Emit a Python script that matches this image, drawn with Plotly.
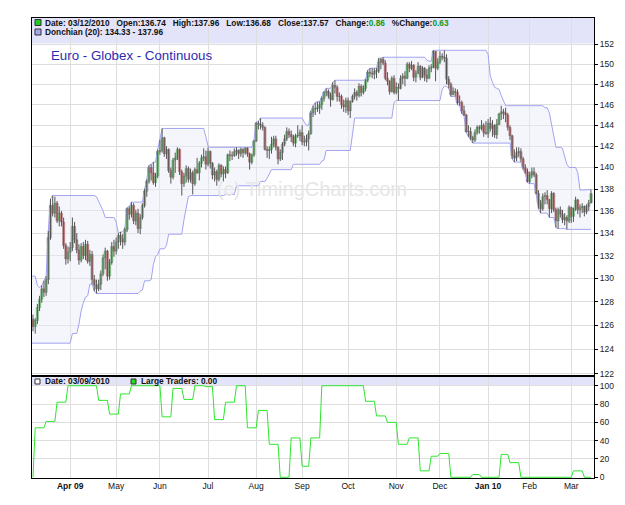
import numpy as np
import pandas as pd
import plotly.graph_objects as go

# ---------------- data ----------------
# trading calendar (weekdays minus exchange holidays)
holidays = ['2009-02-16', '2009-04-10', '2009-05-25', '2009-07-03', '2009-09-07',
            '2009-11-26', '2009-12-25', '2010-01-01', '2010-01-18', '2010-02-15']

# 19 sessions before the visible window (needed for the 20-day Donchian channel)
pre_opens = [128.60, 129.50, 128.60, 129.10, 128.70, 128.50, 126.20, 125.80, 126.70, 128.10,
             127.90, 128.10, 128.00, 127.30, 126.70, 125.70, 126.00, 126.50, 124.80]
pre_highs = [129.80, 130.20, 129.40, 129.20, 129.00, 128.60, 127.00, 126.90, 128.50, 129.00,
             128.40, 128.50, 128.30, 127.50, 126.90, 126.40, 127.20, 126.80, 126.90]
pre_lows = [128.30, 128.20, 128.20, 127.80, 128.10, 126.00, 125.60, 125.50, 125.80, 127.50,
            126.80, 127.30, 126.90, 126.00, 125.30, 125.20, 125.50, 124.50, 125.40]
pre_closes = [129.50, 128.60, 129.10, 128.70, 128.50, 126.20, 125.80, 126.70, 128.10, 127.90,
              128.10, 128.00, 127.30, 126.70, 125.70, 126.00, 126.50, 124.80, 126.50]

opens = [
    126.50, 125.90, 126.40, 127.50, 128.20, 129.10, 128.80, 129.90, 133.60, 136.50,
    135.80, 136.70, 135.10, 135.80, 135.00, 132.90, 131.70, 132.30, 132.70, 134.60,
    133.40, 132.50, 131.60, 132.80, 132.00, 133.00, 131.50, 132.10, 129.90, 129.40,
    129.10, 129.50, 130.40, 131.80, 132.40, 130.20, 131.40, 132.80, 132.40, 133.20,
    133.80, 133.50, 133.20, 134.30, 136.20, 135.70, 136.50, 135.10, 135.80, 134.40,
    135.40, 136.50, 137.80, 138.70, 140.00, 139.50, 138.60, 139.20, 141.50, 141.60,
    142.80, 141.30, 141.70, 139.70, 139.10, 140.70, 140.90, 141.70, 139.60, 138.50,
    139.20, 139.90, 138.90, 139.50, 138.50, 139.80, 139.50, 140.40, 140.90, 141.00,
    140.30, 141.50, 140.40, 139.30, 139.60, 138.90, 140.20, 139.40, 139.80, 139.50,
    141.20, 141.10, 141.10, 141.50, 141.60, 141.30, 141.70, 141.40, 141.80, 141.30,
    140.50, 141.20, 142.50, 144.20, 144.10, 144.00, 143.80, 141.70, 141.60, 141.70,
    142.20, 142.70, 141.90, 140.80, 141.40, 142.20, 142.70, 143.40, 143.10, 142.90,
    142.30, 143.00, 143.00, 143.30, 142.40, 142.40, 142.70, 143.20, 145.20, 145.60,
    145.60, 145.70, 146.00, 146.60, 147.20, 147.30, 146.90, 146.50, 147.90, 147.70,
    146.80, 146.80, 146.00, 145.80, 146.40, 145.40, 146.30, 146.80, 147.20, 146.90,
    147.80, 147.20, 147.60, 148.40, 149.20, 149.10, 149.00, 149.30, 149.30, 150.20,
    150.50, 150.10, 148.60, 148.30, 147.30, 148.60, 147.20, 147.70, 147.60, 148.60,
    148.80, 148.60, 150.00, 149.60, 149.90, 148.70, 149.10, 149.80, 148.70, 149.60,
    148.90, 148.60, 149.60, 149.70, 151.30, 149.60, 150.20, 150.80, 150.70, 150.60,
    148.50, 148.00, 147.00, 147.30, 147.20, 146.20, 146.20, 145.40, 145.00, 143.40,
    143.40, 142.80, 142.60, 143.30, 143.80, 143.70, 144.00, 143.30, 143.20, 144.20,
    143.70, 144.00, 143.10, 144.10, 145.10, 145.30, 145.20, 145.00, 143.80, 143.00,
    141.10, 140.90, 141.40, 141.50, 140.80, 140.00, 139.60, 138.70, 139.30, 139.60,
    139.30, 137.60, 136.70, 136.20, 137.30, 137.40, 137.00, 136.20, 137.60, 136.10,
    135.10, 136.10, 135.70, 135.20, 135.40, 135.10, 136.30, 135.50, 136.20, 137.00,
    136.10, 136.30, 136.40, 135.90, 136.40, 136.74]
highs = [
    126.90, 126.60, 127.80, 128.50, 129.40, 129.80, 130.20, 134.20, 137.10, 137.40,
    137.30, 136.90, 136.40, 136.00, 135.40, 133.10, 132.80, 133.20, 135.40, 135.00,
    134.00, 133.00, 133.10, 133.20, 133.40, 133.30, 132.50, 132.40, 130.30, 129.90,
    129.90, 130.70, 132.10, 132.70, 132.50, 131.70, 133.20, 133.40, 133.60, 134.00,
    134.10, 133.90, 134.50, 136.30, 136.40, 136.80, 136.70, 136.10, 136.20, 135.70,
    136.70, 138.00, 138.90, 140.20, 140.30, 140.50, 139.50, 141.70, 142.60, 143.70,
    142.90, 142.00, 141.80, 140.00, 140.90, 141.40, 141.90, 141.80, 139.80, 139.50,
    140.20, 140.10, 139.90, 139.70, 140.00, 140.90, 140.60, 141.20, 141.80, 141.60,
    141.90, 141.60, 140.50, 140.00, 139.80, 140.40, 140.30, 140.10, 140.10, 141.30,
    141.60, 141.50, 141.80, 141.90, 141.70, 141.85, 141.80, 141.90, 141.90, 141.40,
    141.30, 142.60, 144.30, 144.40, 144.70, 144.30, 143.90, 142.00, 142.00, 142.90,
    143.00, 143.00, 142.00, 141.70, 142.40, 143.10, 143.80, 143.70, 143.50, 143.10,
    143.20, 144.00, 143.60, 144.00, 143.00, 143.10, 143.50, 145.40, 145.90, 146.20,
    146.30, 146.30, 146.80, 147.30, 147.60, 147.50, 147.20, 148.20, 148.40, 147.90,
    147.20, 147.00, 146.50, 146.70, 146.70, 146.40, 147.00, 147.60, 147.40, 148.10,
    148.00, 147.90, 148.50, 149.40, 149.60, 149.60, 149.60, 149.60, 150.60, 150.60,
    150.70, 150.40, 149.20, 148.40, 148.80, 148.90, 148.20, 148.10, 148.90, 149.10,
    149.30, 150.20, 150.20, 150.30, 150.00, 149.40, 150.20, 149.90, 149.80, 149.70,
    149.50, 149.90, 150.00, 151.40, 151.30, 150.60, 151.30, 151.10, 151.40, 151.00,
    148.80, 148.20, 147.70, 147.60, 147.50, 146.90, 146.40, 145.90, 145.10, 144.00,
    143.80, 143.00, 143.60, 144.00, 144.00, 144.50, 144.20, 144.40, 144.60, 144.80,
    144.50, 144.10, 144.60, 145.20, 145.90, 145.60, 145.70, 145.20, 144.00, 143.10,
    141.70, 141.90, 141.90, 141.80, 141.00, 140.30, 139.90, 139.60, 140.00, 140.00,
    139.50, 137.90, 137.00, 137.60, 137.70, 137.90, 137.10, 137.80, 137.70, 136.30,
    136.30, 136.40, 136.10, 135.80, 135.60, 136.50, 136.40, 136.30, 137.30, 137.10,
    136.60, 136.70, 136.50, 136.60, 137.00, 137.96]
lows = [
    125.50, 125.30, 126.10, 127.20, 127.90, 128.40, 128.50, 129.50, 133.40, 135.50,
    135.40, 134.90, 134.60, 134.60, 132.60, 131.20, 131.30, 131.50, 132.40, 133.10,
    132.20, 131.20, 131.40, 131.70, 131.60, 131.30, 131.10, 129.50, 128.90, 128.70,
    128.90, 129.00, 130.20, 130.80, 129.80, 129.90, 131.20, 131.90, 132.10, 132.60,
    132.90, 132.60, 132.90, 134.10, 135.20, 135.40, 134.80, 134.70, 134.00, 133.90,
    135.20, 136.30, 137.30, 138.50, 138.80, 138.40, 138.20, 139.00, 141.20, 141.40,
    141.00, 140.80, 139.50, 138.50, 138.90, 139.50, 140.70, 139.30, 137.40, 138.20,
    138.60, 138.60, 138.60, 137.50, 138.30, 139.40, 138.80, 140.00, 140.60, 139.80,
    140.10, 139.90, 138.90, 138.70, 138.30, 138.70, 139.10, 138.70, 139.00, 139.40,
    140.60, 140.70, 141.00, 141.10, 140.80, 141.00, 140.90, 141.20, 141.00, 139.80,
    140.30, 141.00, 142.40, 143.60, 143.60, 143.50, 141.60, 140.90, 140.80, 141.30,
    141.90, 141.60, 140.30, 140.60, 140.70, 142.00, 142.50, 142.80, 142.40, 142.00,
    141.90, 142.80, 142.50, 142.10, 142.00, 142.00, 141.60, 143.10, 144.80, 145.00,
    145.30, 145.10, 145.50, 146.30, 146.80, 146.60, 145.80, 146.40, 147.10, 146.30,
    146.30, 145.60, 145.30, 145.20, 145.00, 144.70, 146.20, 146.50, 146.40, 146.70,
    146.80, 147.00, 147.30, 148.20, 148.70, 148.60, 148.50, 148.60, 149.10, 149.50,
    149.90, 148.40, 147.90, 147.00, 147.20, 147.00, 147.00, 146.40, 147.50, 148.00,
    147.80, 148.50, 149.20, 149.40, 148.30, 148.20, 149.00, 148.40, 148.60, 148.30,
    148.20, 148.50, 149.20, 149.60, 148.30, 149.40, 150.00, 150.40, 150.20, 148.00,
    147.60, 146.80, 146.90, 146.80, 146.00, 145.90, 145.10, 144.90, 143.30, 142.90,
    142.60, 142.30, 142.40, 143.10, 143.20, 143.50, 142.90, 143.10, 142.80, 143.40,
    142.90, 142.80, 142.70, 144.00, 144.50, 144.60, 144.30, 143.50, 142.60, 140.80,
    140.50, 140.60, 141.00, 140.50, 139.80, 139.40, 138.60, 138.50, 139.00, 139.10,
    137.50, 136.20, 135.80, 136.00, 136.60, 136.60, 135.40, 135.80, 135.90, 134.50,
    134.40, 135.40, 134.90, 134.70, 134.33, 134.90, 134.90, 135.00, 136.00, 135.70,
    135.40, 135.80, 135.50, 135.70, 136.00, 136.68]
closes = [
    125.90, 126.40, 127.50, 128.20, 129.10, 128.80, 129.90, 133.60, 136.50, 135.80,
    136.70, 135.10, 135.80, 135.00, 132.90, 131.70, 132.30, 132.70, 134.60, 133.40,
    132.50, 131.60, 132.80, 132.00, 133.00, 131.50, 132.10, 129.90, 129.40, 129.10,
    129.50, 130.40, 131.80, 132.40, 130.20, 131.40, 132.80, 132.40, 133.20, 133.80,
    133.50, 133.20, 134.30, 136.20, 135.70, 136.50, 135.10, 135.80, 134.40, 135.40,
    136.50, 137.80, 138.70, 140.00, 139.50, 138.60, 139.20, 141.50, 141.60, 142.80,
    141.30, 141.70, 139.70, 139.10, 140.70, 140.90, 141.70, 139.60, 138.50, 139.20,
    139.90, 138.90, 139.50, 138.50, 139.80, 139.50, 140.40, 140.90, 141.00, 140.30,
    141.50, 140.40, 139.30, 139.60, 138.90, 140.20, 139.40, 139.80, 139.50, 141.20,
    141.10, 141.10, 141.50, 141.60, 141.30, 141.70, 141.40, 141.80, 141.30, 140.50,
    141.20, 142.50, 144.20, 144.10, 144.00, 143.80, 141.70, 141.60, 141.70, 142.20,
    142.70, 141.90, 140.80, 141.40, 142.20, 142.70, 143.40, 143.10, 142.90, 142.30,
    143.00, 143.00, 143.30, 142.40, 142.40, 142.70, 143.20, 145.20, 145.60, 145.60,
    145.70, 146.00, 146.60, 147.20, 147.30, 146.90, 146.50, 147.90, 147.70, 146.80,
    146.80, 146.00, 145.80, 146.40, 145.40, 146.30, 146.80, 147.20, 146.90, 147.80,
    147.20, 147.60, 148.40, 149.20, 149.10, 149.00, 149.30, 149.30, 150.20, 150.50,
    150.10, 148.60, 148.30, 147.30, 148.60, 147.20, 147.70, 147.60, 148.60, 148.80,
    148.60, 150.00, 149.60, 149.90, 148.70, 149.10, 149.80, 148.70, 149.60, 148.90,
    148.60, 149.60, 149.70, 151.30, 149.60, 150.20, 150.80, 150.70, 150.60, 148.50,
    148.00, 147.00, 147.30, 147.20, 146.20, 146.20, 145.40, 145.00, 143.40, 143.40,
    142.80, 142.60, 143.30, 143.80, 143.70, 144.00, 143.30, 143.20, 144.20, 143.70,
    144.00, 143.10, 144.10, 145.10, 145.30, 145.20, 145.00, 143.80, 143.00, 141.10,
    140.90, 141.40, 141.50, 140.80, 140.00, 139.60, 138.70, 139.30, 139.60, 139.30,
    137.60, 136.70, 136.20, 137.30, 137.40, 137.00, 136.20, 137.60, 136.10, 135.10,
    136.10, 135.70, 135.20, 135.40, 135.10, 136.30, 135.50, 136.20, 137.00, 136.10,
    136.30, 136.40, 135.90, 136.40, 136.71, 137.57]

# weekly Large Traders index (COT, Tuesdays from 2009-03-03)
lt_start = '2009-03-03'
lt_values = [0, 54, 61, 82, 100, 100, 100, 84, 69, 91, 100, 100, 100, 66, 97, 85, 100, 99,
             63, 82, 100, 54, 73, 36, 0, 43, 12, 43, 100, 100, 100, 100, 83, 67, 60, 36,
             43, 7, 23, 26, 0, 0, 3, 0, 0, 25, 16, 0, 0, 0, 0, 0, 7, 0]

price_ticks = list(range(122, 153, 2))
lt_ticks = [0, 20, 40, 60, 80, 100]
month_names = ['Jan', 'Feb', 'Mar', 'Apr', 'May', 'Jun', 'Jul', 'Aug', 'Sep', 'Oct', 'Nov', 'Dec']

# ---------------- derived ----------------
days = pd.bdate_range('2009-02-09', '2010-03-12')
days = days[~days.isin(pd.to_datetime(holidays))]
O_all = pre_opens + opens
H_all = pre_highs + highs
L_all = pre_lows + lows
C_all = pre_closes + closes
n = min(len(days), len(O_all))
days = days[:n]
npre = len(pre_opens)
pos_all = np.arange(n) - npre

hs = pd.Series(H_all[:n])
ls = pd.Series(L_all[:n])
upper = hs.rolling(20, min_periods=1).max().values
lower = ls.rolling(20, min_periods=1).min().values

main_days = days[npre:]
pos_main = pos_all[npre:]

lt_dates = pd.date_range(lt_start, periods=len(lt_values), freq='7D')
lt_df = pd.DataFrame({'d': lt_dates, 'v': lt_values})
md = pd.DataFrame({'d': main_days})
lt_daily = pd.merge_asof(md, lt_df, on='d')['v'].values

# candle geometry from OHLC
o_arr, c_arr = np.array(opens), np.array(closes)
body_base = np.minimum(o_arr, c_arr)
body_len = np.maximum(np.abs(c_arr - o_arr), 0.05)
body_col = np.where(c_arr >= o_arr, '#12e012', '#f01e18')
wick_x, wick_y = [], []
for p, lo, hi in zip(pos_main, lows, highs):
    wick_x += [p, p, None]
    wick_y += [lo, hi, None]

# month ticks: first session of each month after the first partial month
tick_pos, tick_txt = [], []
seen = set()
for p, d in zip(pos_main, main_days):
    key = (d.year, d.month)
    if key in seen:
        continue
    seen.add(key)
    if p == 0:
        continue
    lab = month_names[d.month - 1]
    if not tick_pos or d.month == 1:
        lab = '<b>%s %02d</b>' % (lab, d.year % 100)
    tick_pos.append(int(p))
    tick_txt.append(lab)

# ---------------- geometry helpers (pixels -> paper) ----------------
PL, PR, PT, PB = 32, 594, 18, 478
SPLIT = 376
def fx(px):
    return (px - PL) / (PR - PL)
def fy(py):
    return (PB - py) / (PB - PT)

xr = [-0.46, 256.4]
GRID = '#dedede'
FONT = 'Liberation Sans'

fig = go.Figure()
fig.add_trace(go.Scatter(x=pos_all, y=upper, mode='lines',
                         line=dict(color='#a3a3f2', width=1), hoverinfo='skip'))
fig.add_trace(go.Scatter(x=pos_all, y=lower, mode='lines', fill='tonexty',
                         fillcolor='rgba(232,236,248,0.45)',
                         line=dict(color='#a3a3f2', width=1), hoverinfo='skip'))
fig.add_trace(go.Scatter(x=wick_x, y=wick_y, mode='lines', hoverinfo='skip',
                         line=dict(color='#555555', width=1)))
fig.add_trace(go.Bar(x=pos_main, y=body_len, base=body_base, width=1.05,
                     marker=dict(color=list(body_col), line=dict(color='#1a1a1a', width=0.4)),
                     hoverinfo='skip'))
fig.add_trace(go.Scatter(x=pos_main, y=lt_daily, mode='lines', xaxis='x2', yaxis='y2',
                         line=dict(color='#2ee62e', width=1), hoverinfo='skip'))

split_frac = fy(SPLIT)
axis_common = dict(showline=True, mirror=True, linecolor='black', linewidth=1,
                   gridcolor=GRID, gridwidth=1, zeroline=False)

fig.update_layout(
    width=625, height=505,
    margin=dict(l=PL, r=625 - PR, t=PT, b=505 - PB, pad=0),
    paper_bgcolor='white', plot_bgcolor='rgba(0,0,0,0)',
    showlegend=False, hovermode=False, barmode='overlay',
    xaxis=dict(domain=[0, 1], anchor='y', range=xr, tickvals=tick_pos, showticklabels=False,
               ticks='', showgrid=True, **axis_common),
    yaxis=dict(domain=[split_frac, 1], anchor='x', type='log', side='right',
               range=[np.log10(121.8), np.log10(154.7)], tickvals=price_ticks,
               ticktext=[str(v) for v in price_ticks], ticks='outside', ticklen=3,
               tickcolor='black', showgrid=True,
               tickfont=dict(family=FONT, size=8.5, color='#222'), **axis_common),
    xaxis2=dict(domain=[0, 1], anchor='y2', range=xr, tickvals=tick_pos, ticktext=tick_txt,
                ticks='', showgrid=True, tickfont=dict(family=FONT, size=8.5, color='#111'),
                **axis_common),
    yaxis2=dict(domain=[0, split_frac], anchor='x2', side='right', range=[-0.8, 110.6],
                tickvals=lt_ticks, ticktext=[str(v) for v in lt_ticks], ticks='outside',
                ticklen=3, tickcolor='black', showgrid=True,
                tickfont=dict(family=FONT, size=8.5, color='#222'), **axis_common),
)

BAND = '#e3e3fa'
shapes = [
    dict(type='rect', xref='paper', yref='paper', x0=0, x1=1, y0=fy(43.5), y1=1,
         fillcolor=BAND, line=dict(width=0), layer='below'),
    dict(type='rect', xref='paper', yref='paper', x0=0, x1=1, y0=fy(386), y1=fy(SPLIT),
         fillcolor=BAND, line=dict(width=0), layer='below'),
    # separator between the panels
    dict(type='line', xref='paper', yref='paper', x0=0, x1=1, y0=fy(SPLIT), y1=fy(SPLIT),
         line=dict(color='black', width=2)),
    # legend squares
    dict(type='rect', xref='paper', yref='paper', x0=fx(35), x1=fx(41), y0=fy(25.5), y1=fy(19.5),
         fillcolor='#22cc22', line=dict(color='#333', width=1)),
    dict(type='rect', xref='paper', yref='paper', x0=fx(35), x1=fx(41), y0=fy(35), y1=fy(29),
         fillcolor='#a8a8ee', line=dict(color='#333', width=1)),
    dict(type='rect', xref='paper', yref='paper', x0=fx(35), x1=fx(40), y0=fy(384), y1=fy(379),
         fillcolor='white', line=dict(color='#333', width=1)),
    dict(type='rect', xref='paper', yref='paper', x0=fx(131), x1=fx(136), y0=fy(384), y1=fy(379),
         fillcolor='#22dd22', line=dict(color='#333', width=1)),
]
fig.update_layout(shapes=shapes)

G = "<span style='color:#119911'>%s</span>"
sp = '\u00a0\u00a0\u00a0'
line1 = ('<b>Date: 03/12/2010' + sp + 'Open:136.74' + sp + 'High:137.96' + sp + 'Low:136.68' + sp +
         'Close:137.57' + sp + 'Change:' + (G % '0.86') + sp + '%Change:' + (G % '0.63') + '</b>')
ann = [
    dict(text=line1, x=fx(43), y=fy(22.5)),
    dict(text='<b>Donchian (20): 134.33 - 137.96</b>', x=fx(43), y=fy(32)),
    dict(text='<b>Date: 03/09/2010</b>', x=fx(43), y=fy(381.5)),
    dict(text='<b>Large Traders: 0.00</b>', x=fx(139), y=fy(381.5)),
]
annotations = []
for a in ann:
    a.update(xref='paper', yref='paper', xanchor='left', yanchor='middle', showarrow=False,
             font=dict(family=FONT, size=8.3, color='#111'))
    annotations.append(a)
annotations.append(dict(text='Euro - Globex - Continuous', x=fx(49), y=fy(56), xref='paper',
                        yref='paper', xanchor='left', yanchor='middle', showarrow=False,
                        font=dict(family=FONT, size=13.3, color='#2b2bb3')))
annotations.append(dict(text='(c) TimingCharts.com', x=fx(312), y=fy(189), xref='paper',
                        yref='paper', xanchor='center', yanchor='middle', showarrow=False,
                        font=dict(family=FONT, size=20, color='#e6e6e6')))
fig.update_layout(annotations=annotations)

fig.write_html('out.html')
